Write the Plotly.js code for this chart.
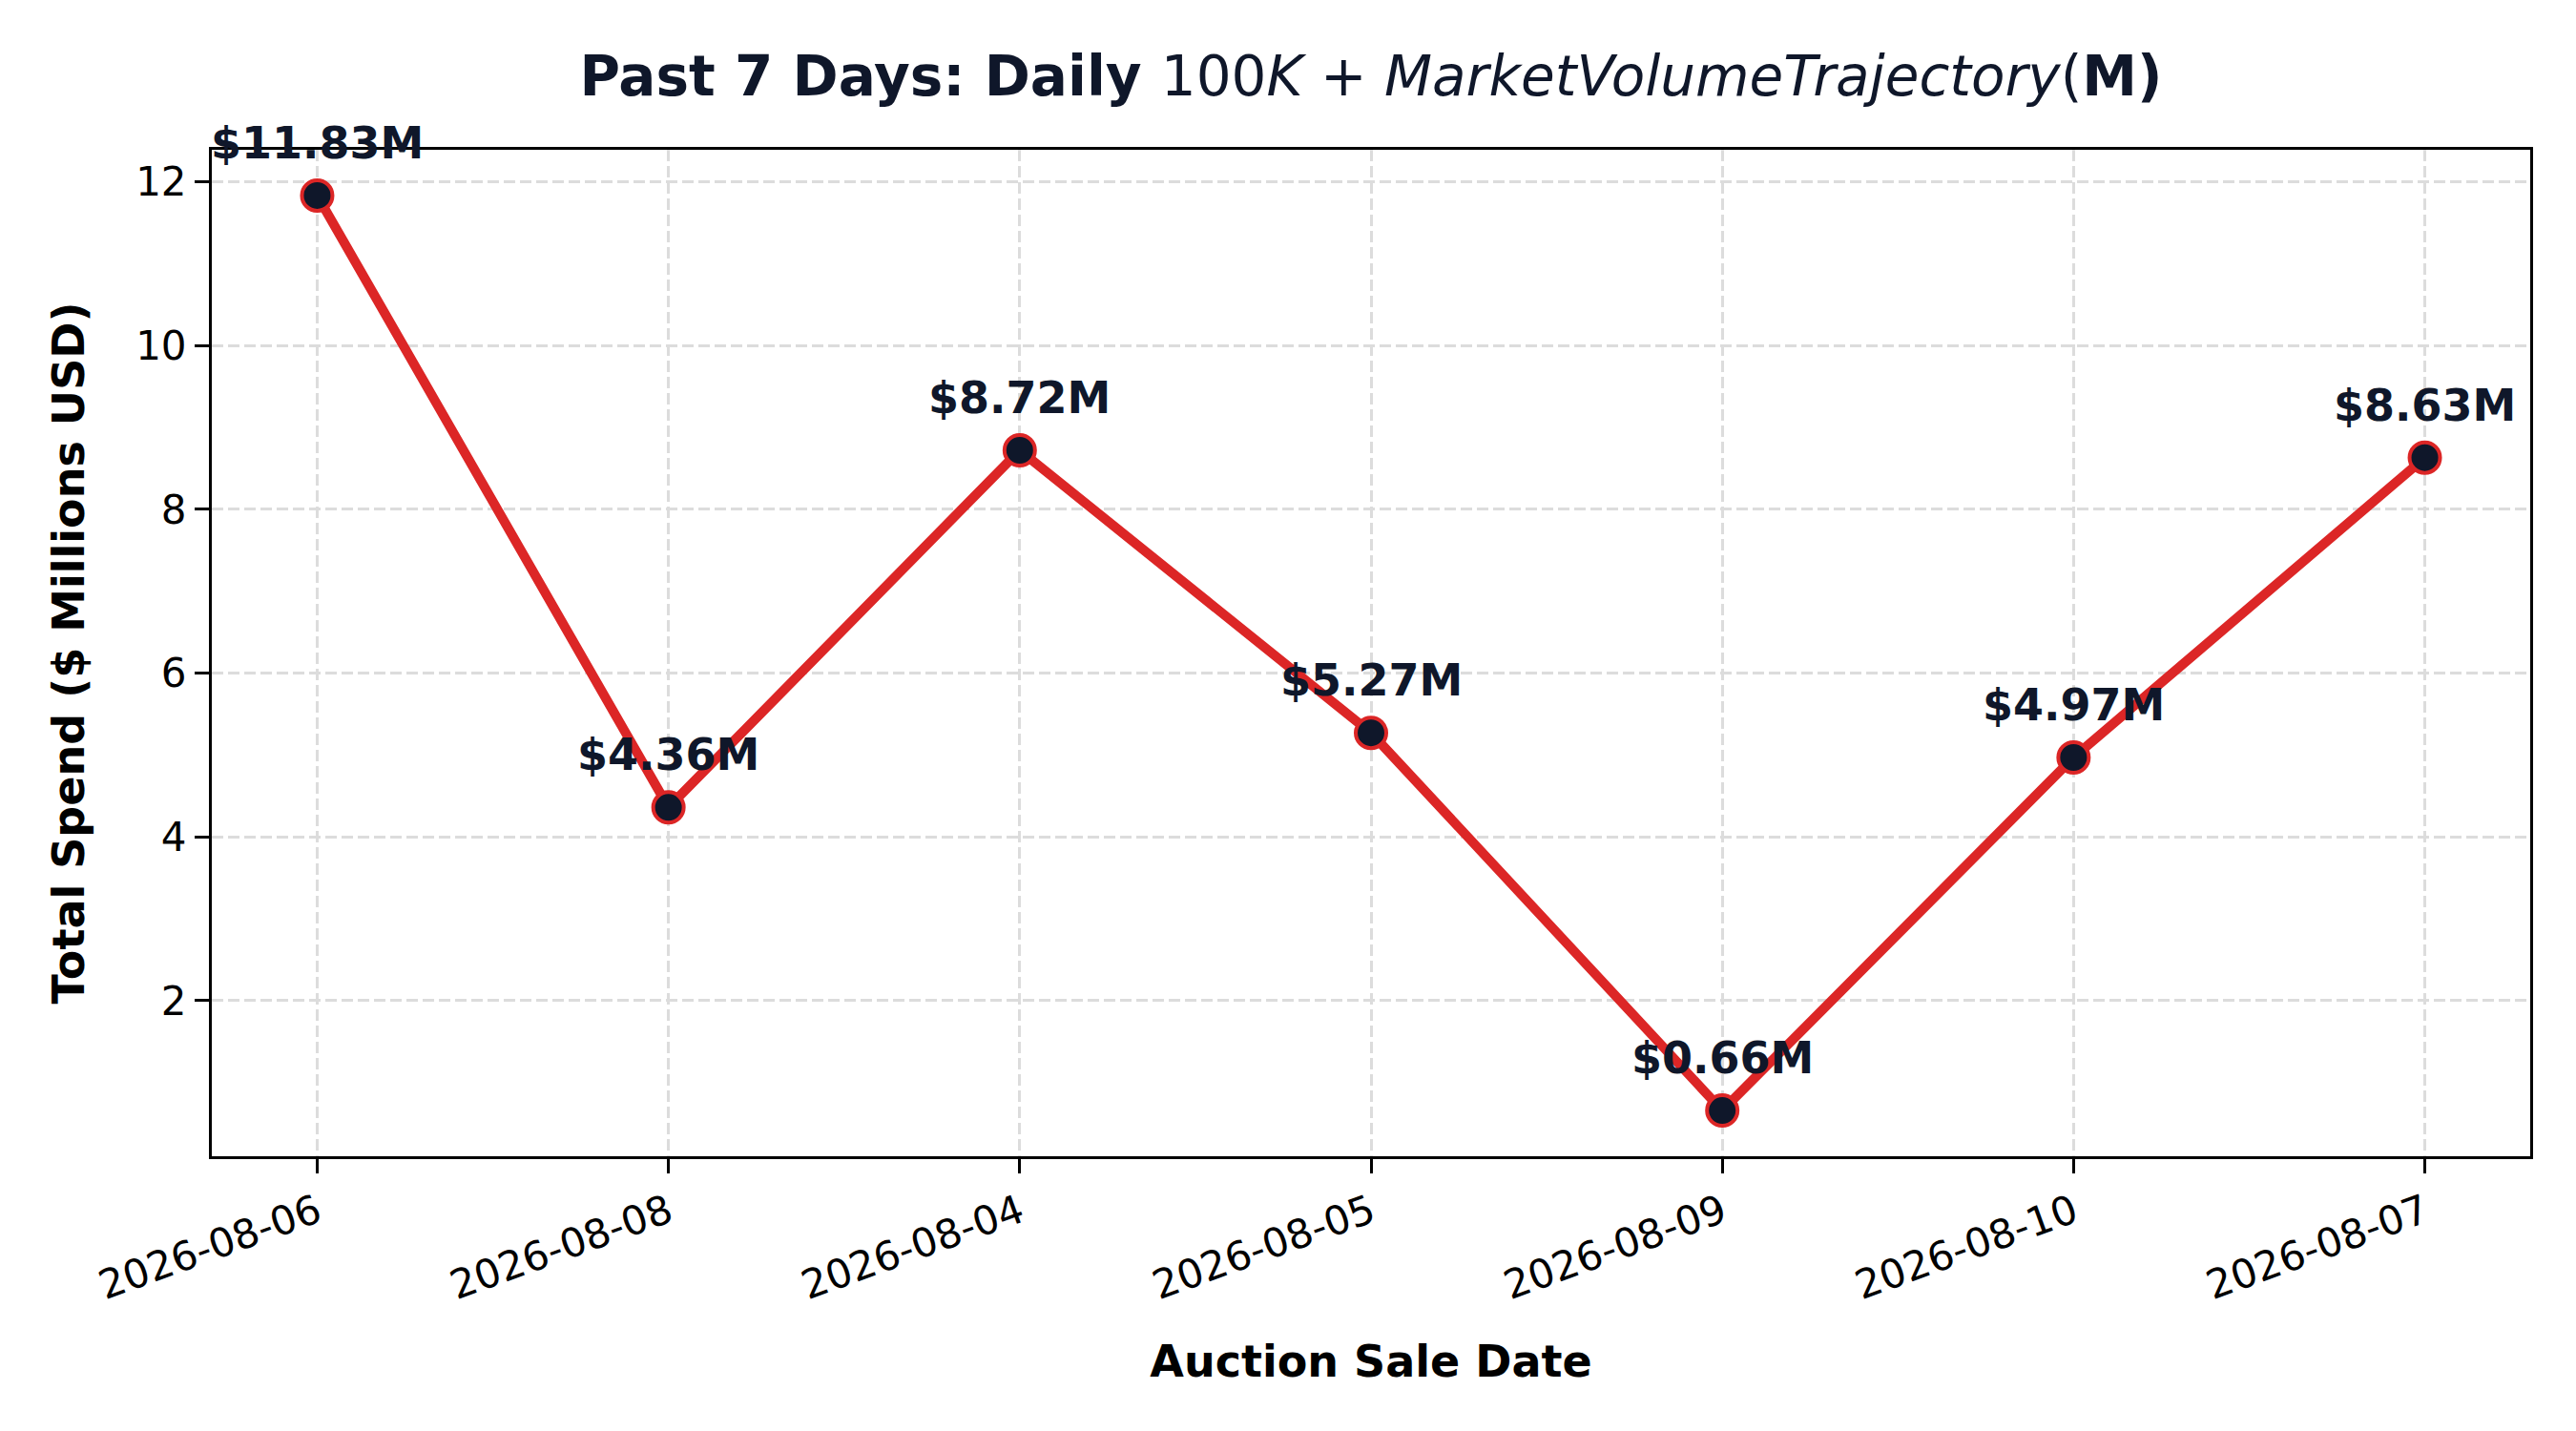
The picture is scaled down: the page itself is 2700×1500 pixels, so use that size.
<!DOCTYPE html>
<html>
<head>
<meta charset="utf-8">
<script src="https://cdn.plot.ly/plotly-3.0.1.min.js"></script>
<style>
  body { margin: 0; background: #fff; }
  #chart { width: 2700px; height: 1500px; }
</style>
</head>
<body>
<div id="chart"></div>
<script>
// data
let saleDates = ['2026-08-06', '2026-08-08', '2026-08-04', '2026-08-05', '2026-08-09', '2026-08-10', '2026-08-07'];
let totalSpend = [11.83, 4.36, 8.72, 5.27, 0.66, 4.97, 8.63];
let yTicks = [2, 4, 6, 8, 10, 12];

let navy = '#0f172a';
let red = '#dc2626';
let font = 'DejaVu Sans';

let trace = {
    type: 'scatter',
    mode: 'lines+markers',
    x: saleDates,
    y: totalSpend,
    line: {color: red, width: 10},
    marker: {size: 32, color: navy, line: {color: red, width: 4}},
    cliponaxis: false,
    hoverinfo: 'skip'
};

// value labels above each point
let labels = saleDates.map(function(d, i) {
    return {
        x: d,
        y: totalSpend[i],
        xref: 'x',
        yref: 'y',
        text: '<b>$' + totalSpend[i].toFixed(2) + 'M</b>',
        showarrow: false,
        yanchor: 'bottom',
        yshift: 26,
        font: {family: font, size: 46, color: navy}
    };
});

let ymin = Math.min(...totalSpend), ymax = Math.max(...totalSpend);
let pad = (ymax - ymin) * 0.05;

let layout = {
    width: 2700,
    height: 1500,
    margin: {l: 222, r: 48, t: 157, b: 288},
    paper_bgcolor: '#fff',
    plot_bgcolor: '#fff',
    showlegend: false,
    font: {family: font, color: '#000'},
    title: {
        text: '<b>Past 7 Days: Daily </b>100<i>K</i> + <i>MarketVolumeTrajectory</i>(<b>M)</b>',
        font: {family: font, size: 58, color: navy},
        x: 0.5,
        xref: 'paper',
        y: 1 - 80 / 1500,
        yref: 'container',
        yanchor: 'middle'
    },
    xaxis: {
        type: 'category',
        range: [-0.3, saleDates.length - 1 + 0.3],
        tickangle: -20,
        tickfont: {family: font, size: 42, color: '#000'},
        ticks: 'outside',
        ticklen: 15,
        tickwidth: 3,
        tickcolor: '#000',
        showline: true,
        mirror: true,
        linecolor: '#000',
        linewidth: 3,
        showgrid: true,
        gridcolor: '#dcdcdc',
        gridwidth: 3,
        griddash: '12px,5px',
        zeroline: false,
        automargin: false,
        title: {
            text: '<b>Auction Sale Date</b>',
            font: {family: font, size: 46, color: '#000'},
            standoff: 40
        }
    },
    yaxis: {
        range: [ymin - pad, ymax + pad],
        tickvals: yTicks,
        tickfont: {family: font, size: 42, color: '#000'},
        ticks: 'outside',
        ticklen: 15,
        tickwidth: 3,
        tickcolor: '#000',
        showline: true,
        mirror: true,
        linecolor: '#000',
        linewidth: 3,
        showgrid: true,
        gridcolor: '#dcdcdc',
        gridwidth: 3,
        griddash: '12px,5px',
        zeroline: false,
        automargin: false,
        title: {
            text: '<b>Total Spend ($ Millions USD)</b>',
            font: {family: font, size: 46, color: '#000'},
            standoff: 40
        }
    },
    annotations: labels
};

Plotly.newPlot('chart', [trace], layout, {staticPlot: true});
</script>
</body>
</html>
